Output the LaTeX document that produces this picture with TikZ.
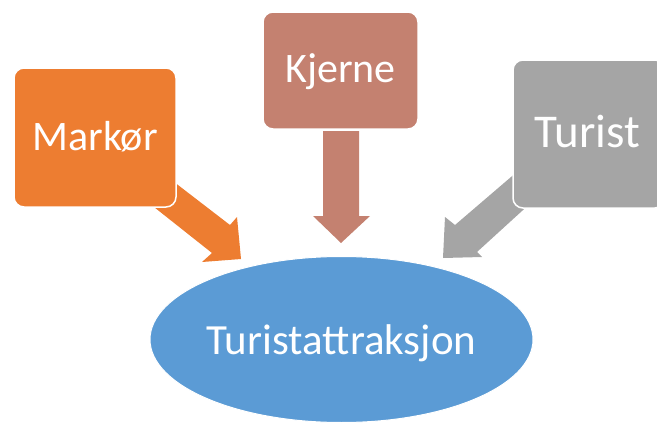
\documentclass[tikz,border=0pt]{standalone}
\usepackage{fontspec}
\setmainfont{Carlito}
\usetikzlibrary{shapes.geometric}
\definecolor{corange}{HTML}{ED7D31}
\definecolor{cbrown}{HTML}{C48170}
\definecolor{cgray}{HTML}{A5A5A5}
\definecolor{cblue}{HTML}{5B9BD5}
\tikzset{
  box/.style={rectangle, rounded corners=10pt, draw=white, line width=1.5pt, inner sep=0pt},
  label/.style={text=white, inner sep=0pt, anchor=base, font=\fontsize{42}{42}\selectfont},
  oval/.style={ellipse, draw=white, line width=1pt, fill=cblue, inner sep=0pt,
    minimum width=383pt, minimum height=166pt}
}
\begin{document}
\begin{tikzpicture}[x=1pt,y=-1pt]
\useasboundingbox (0,0) rectangle (657,423);
% block arrows
\fill[corange] (152,165) -- (230,225) -- (237,217) -- (241,259) -- (202,262) -- (212,253) -- (130,188) -- cycle;
\fill[cbrown] (323,131) -- (323,216) -- (313,216) -- (341,243) -- (370,216) -- (359,216) -- (359,131) -- cycle;
\fill[cgray] (532,159) -- (455,225) -- (445,217) -- (443,258) -- (482,257) -- (477,252) -- (545,190) -- cycle;
% boxes
\node[box, fill=corange, minimum width=162pt, minimum height=139pt] (m) at (95,137.5) {};
\node[label] (mt) at (95,150.5) {Markør};
\node[box, fill=cbrown, minimum width=155pt, minimum height=117pt] (k) at (340.5,70.5) {};
\node[label] (kt) at (340.5,82) {Kjerne};
\node[box, fill=cgray, minimum width=152pt, minimum height=148pt] (t) at (589,134) {};
\node[label, font=\fontsize{47}{47}\selectfont] (tt) at (587.5,147) {Turist};
% ellipse
\node[oval] (e) at (341.5,339.5) {};
\node[label, font=\fontsize{43}{43}\selectfont] (et) at (341.5,354) {Turistattraksjon};
\end{tikzpicture}
\end{document}
